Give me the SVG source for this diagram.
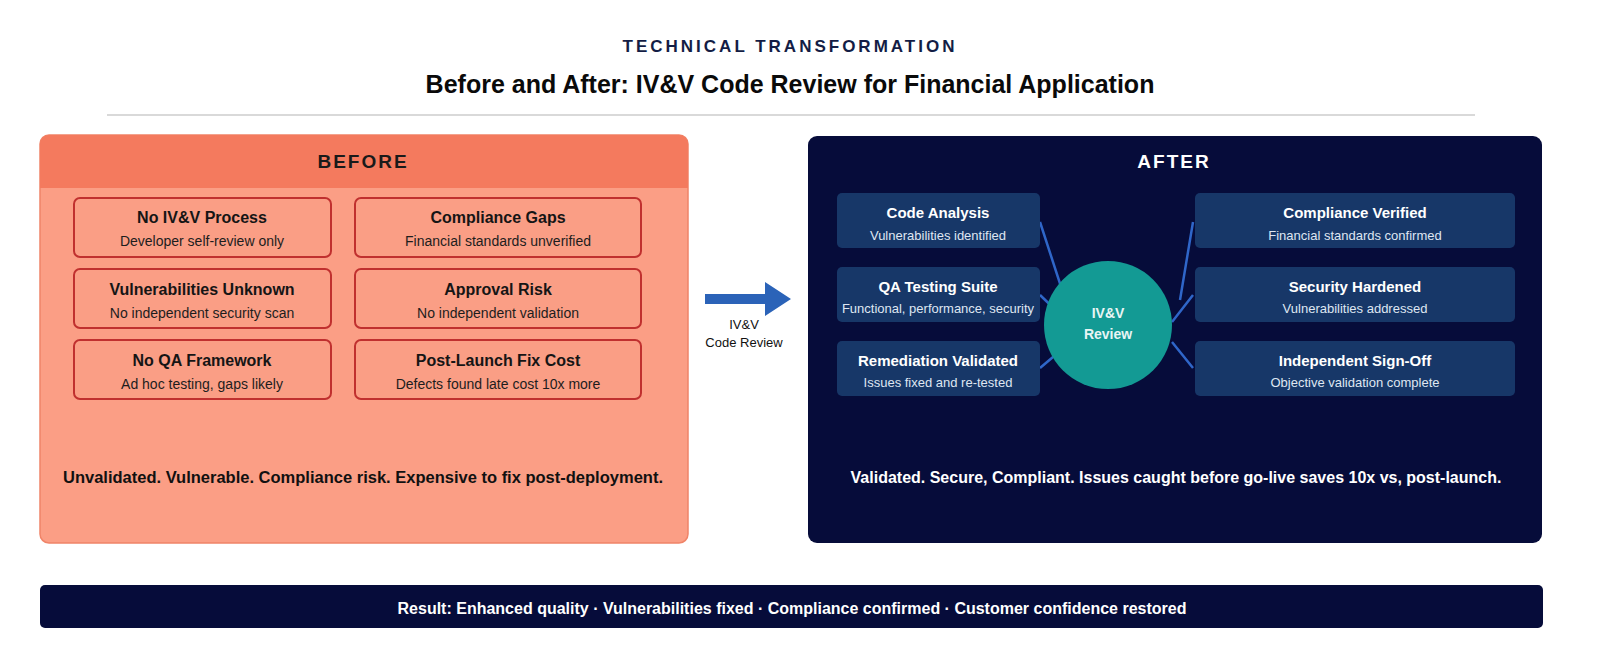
<svg xmlns="http://www.w3.org/2000/svg" width="1607" height="656" viewBox="0 0 1607 656">
<style>
text{font-family:"Liberation Sans",Arial,sans-serif;text-anchor:middle}
.bb{fill:#fa9e85;stroke:#c0302f;stroke-width:2}
.bt{font-size:16px;font-weight:bold;fill:#151515}
.bs{font-size:14px;fill:#1d1d1d}
.ab{fill:#173768}
.at{font-size:15px;font-weight:bold;fill:#fff}
.as{font-size:13px;fill:#dfe6f2}
.ln{stroke:#2f66c9;stroke-width:2.5;fill:none}
</style>
<rect width="1607" height="656" fill="#fff"/>
<text x="790" y="52" style="font-size:17px;font-weight:bold;letter-spacing:3px;fill:#131d45">TECHNICAL TRANSFORMATION</text>
<text x="790" y="93" style="font-size:25px;font-weight:bold;fill:#0a0a0a">Before and After: IV&amp;V Code Review for Financial Application</text>
<line x1="107" y1="115" x2="1475" y2="115" stroke="#ccc" stroke-width="1.5"/>
<g id="before">
<rect x="40" y="135" width="648" height="408" rx="9" fill="#fb9e85" stroke="#f08468" stroke-width="1.5"/>
<path d="M40 188V144a9 9 0 0 1 9-9h630a9 9 0 0 1 9 9v44z" fill="#f47a5e"/>
<text x="363" y="168" style="font-size:19px;font-weight:bold;letter-spacing:2px;fill:#1a1a1a">BEFORE</text>
<text x="363" y="483" style="font-size:16.5px;font-weight:bold;fill:#111">Unvalidated. Vulnerable. Compliance risk. Expensive to fix post-deployment.</text>
</g>
<g id="b1"><rect class="bb" x="74" y="198" width="257" height="59" rx="6"/><text class="bt" x="202" y="223">No IV&amp;V Process</text><text class="bs" x="202" y="246">Developer self-review only</text></g>
<g id="b2"><rect class="bb" x="355" y="198" width="286" height="59" rx="6"/><text class="bt" x="498" y="223">Compliance Gaps</text><text class="bs" x="498" y="246">Financial standards unverified</text></g>
<g id="b3"><rect class="bb" x="74" y="269" width="257" height="59" rx="6"/><text class="bt" x="202" y="295">Vulnerabilities Unknown</text><text class="bs" x="202" y="318">No independent security scan</text></g>
<g id="b4"><rect class="bb" x="355" y="269" width="286" height="59" rx="6"/><text class="bt" x="498" y="295">Approval Risk</text><text class="bs" x="498" y="318">No independent validation</text></g>
<g id="b5"><rect class="bb" x="74" y="340" width="257" height="59" rx="6"/><text class="bt" x="202" y="366">No QA Framework</text><text class="bs" x="202" y="389">Ad hoc testing, gaps likely</text></g>
<g id="b6"><rect class="bb" x="355" y="340" width="286" height="59" rx="6"/><text class="bt" x="498" y="366">Post-Launch Fix Cost</text><text class="bs" x="498" y="389">Defects found late cost 10x more</text></g>
<g id="transition">
<path d="M705 294h60v-12l26 17-26 17v-12h-60z" fill="#2b63b8"/>
<text x="744" y="329" style="font-size:13px;fill:#111">IV&amp;V</text>
<text x="744" y="347" style="font-size:13px;fill:#111">Code Review</text>
</g>
<g id="after">
<rect x="808" y="136" width="734" height="407" rx="9" fill="#060c3a"/>
<text x="1174" y="168" style="font-size:19px;font-weight:bold;letter-spacing:2px;fill:#fff">AFTER</text>
<text x="1176" y="483" style="font-size:16px;font-weight:bold;fill:#fff">Validated. Secure, Compliant. Issues caught before go-live saves 10x vs, post-launch.</text>
</g>
<g id="connectors">
<path class="ln" d="M1040 222L1066 302M1040 295L1068 322M1040 368L1066 346M1193 222L1180 300M1193 295L1172 322M1193 368L1172 342"/>
</g>
<g id="hub"><circle cx="1108" cy="325" r="64" fill="#139a94"/><text x="1108" y="318" style="font-size:14px;font-weight:bold;fill:#e8f5f4">IV&amp;V</text><text x="1108" y="339" style="font-size:14px;font-weight:bold;fill:#e8f5f4">Review</text></g>
<g id="a1"><rect class="ab" x="837" y="193" width="203" height="55" rx="5"/><text class="at" x="938" y="218">Code Analysis</text><text class="as" x="938" y="240">Vulnerabilities identified</text></g>
<g id="a2"><rect class="ab" x="837" y="267" width="203" height="55" rx="5"/><text class="at" x="938" y="292">QA Testing Suite</text><text class="as" x="938" y="313">Functional, performance, security</text></g>
<g id="a3"><rect class="ab" x="837" y="341" width="203" height="55" rx="5"/><text class="at" x="938" y="366">Remediation Validated</text><text class="as" x="938" y="387">Issues fixed and re-tested</text></g>
<g id="a4"><rect class="ab" x="1195" y="193" width="320" height="55" rx="5"/><text class="at" x="1355" y="218">Compliance Verified</text><text class="as" x="1355" y="240">Financial standards confirmed</text></g>
<g id="a5"><rect class="ab" x="1195" y="267" width="320" height="55" rx="5"/><text class="at" x="1355" y="292">Security Hardened</text><text class="as" x="1355" y="313">Vulnerabilities addressed</text></g>
<g id="a6"><rect class="ab" x="1195" y="341" width="320" height="55" rx="5"/><text class="at" x="1355" y="366">Independent Sign-Off</text><text class="as" x="1355" y="387">Objective validation complete</text></g>
<g id="result">
<rect x="40" y="585" width="1503" height="43" rx="5" fill="#060c3a"/>
<text x="792" y="614" style="font-size:16px;font-weight:bold;fill:#fff">Result: Enhanced quality · Vulnerabilities fixed · Compliance confirmed · Customer confidence restored</text>
</g>
</svg>
